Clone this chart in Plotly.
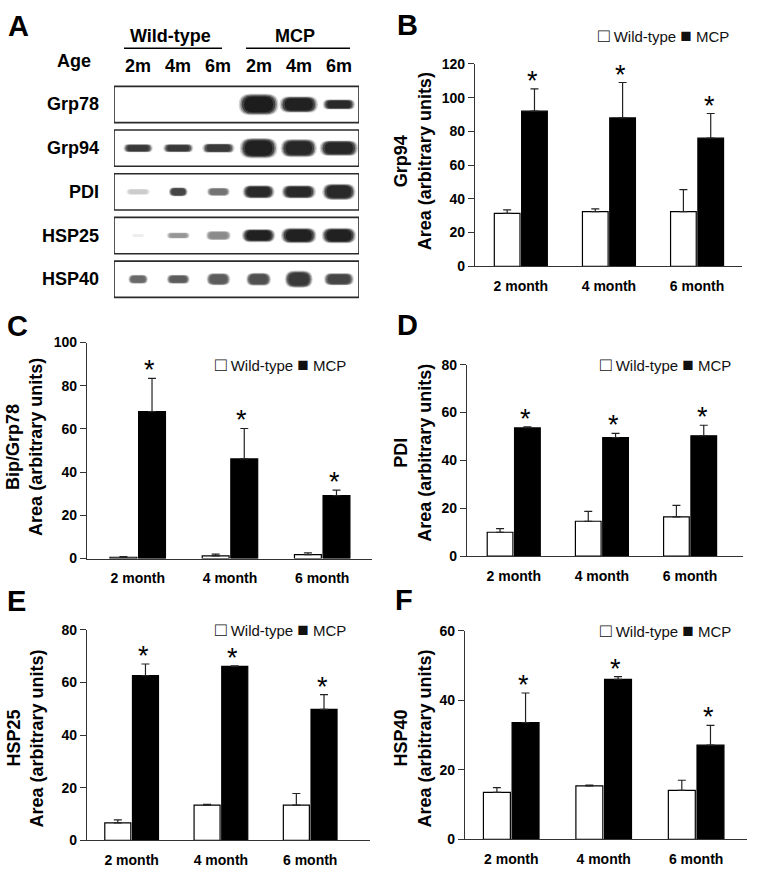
import plotly.graph_objects as go

# ---------------- data ----------------
months = ["2 month", "4 month", "6 month"]
groups = ["Wild-type", "MCP"]

grp94_wt = [31.4, 32.4, 32.4]
grp94_wt_err = [2.0, 1.6, 13.0]
grp94_mcp = [92.0, 88.0, 76.0]
grp94_mcp_err = [13.2, 21.0, 14.6]

grp78_wt = [0.6, 1.2, 1.8]
grp78_wt_err = [0.3, 0.8, 0.8]
grp78_mcp = [68.0, 46.1, 29.1]
grp78_mcp_err = [15.4, 14.1, 2.6]

pdi_wt = [10.0, 14.6, 16.4]
pdi_wt_err = [1.5, 4.1, 4.8]
pdi_mcp = [53.6, 49.5, 50.3]
pdi_mcp_err = [0.4, 1.8, 4.4]

hsp25_wt = [6.6, 13.4, 13.4]
hsp25_wt_err = [1.2, 0.3, 4.4]
hsp25_mcp = [62.6, 66.1, 49.8]
hsp25_mcp_err = [4.4, 0.2, 5.6]

hsp40_wt = [13.5, 15.4, 14.1]
hsp40_wt_err = [1.4, 0.2, 2.9]
hsp40_mcp = [33.6, 46.0, 27.1]
hsp40_mcp_err = [8.5, 0.8, 5.7]

# western blot (panel A): band darkness (0-1) and band extent (lane / row units)
blot_proteins = ["Grp78", "Grp94", "PDI", "HSP25", "HSP40"]
blot_lanes = ["2m", "4m", "6m", "2m", "4m", "6m"]
band_intensity = [
    [0.0, 0.0, 0.0, 0.97, 0.95, 0.92],
    [0.85, 0.85, 0.85, 0.95, 0.93, 0.93],
    [0.22, 0.8, 0.6, 0.92, 0.92, 0.92],
    [0.08, 0.45, 0.5, 0.95, 0.95, 0.95],
    [0.65, 0.7, 0.7, 0.75, 0.85, 0.8],
]
band_w = [
    [0, 0, 0, 0.95, 0.92, 0.77],
    [0.70, 0.72, 0.77, 0.90, 0.87, 0.92],
    [0.57, 0.45, 0.55, 0.77, 0.82, 0.80],
    [0.30, 0.55, 0.60, 0.80, 0.85, 0.82],
    [0.47, 0.55, 0.57, 0.60, 0.67, 0.72],
]
band_h = [
    [0, 0, 0, 0.47, 0.36, 0.22],
    [0.18, 0.18, 0.20, 0.45, 0.40, 0.34],
    [0.13, 0.20, 0.18, 0.29, 0.29, 0.36],
    [0.07, 0.13, 0.20, 0.29, 0.34, 0.34],
    [0.20, 0.20, 0.27, 0.29, 0.38, 0.27],
]

# ---------------- layout helpers ----------------
W, H = 758, 882
FONT = "Arial, Liberation Sans, sans-serif"


def px(x):
    return x / W


def py(y):
    return 1 - y / H


fig = go.Figure()
annotations = []
shapes = []

panels = [
    # title, axis suffix, data..., ymax, x domain px, y domain px (bottom, top), x range,
    # letter, letter pos (x, cap-centre y), title pos (x1, x2, yc), legend pos
    ("Grp94", "", grp94_wt, grp94_wt_err, grp94_mcp, grp94_mcp_err, 120,
     (475, 742), (263, 57), [-0.52, 2.51], "B", (395, 17.5), (401, 425, 156), (596, 28)),
    ("Bip/Grp78", "2", grp78_wt, grp78_wt_err, grp78_mcp, grp78_mcp_err, 100,
     (87, 372), (560.7, 340.7), [-0.55, 2.54], "C", (5, 324), (13, 36, 447), (213, 363)),
    ("PDI", "3", pdi_wt, pdi_wt_err, pdi_mcp, pdi_mcp_err, 80,
     (467, 743), (558.3, 363.3), [-0.53, 2.6], "D", (395, 323), (401, 425, 453), (598, 363)),
    ("HSP25", "4", hsp25_wt, hsp25_wt_err, hsp25_mcp, hsp25_mcp_err, 80,
     (87, 370), (847.7, 633.3), [-0.5, 2.67], "E", (5, 604), (14, 37, 744), (213, 633)),
    ("HSP40", "5", hsp40_wt, hsp40_wt_err, hsp40_mcp, hsp40_mcp_err, 60,
     (465, 747), (846.7, 634.3), [-0.5, 2.55], "F", (393, 603), (401, 425, 744), (598, 634)),
]

layout_axes = {}
for (name, sfx, wt, wte, mcp, mcpe, ymax, xd, yd, xr, letter, lpos, tpos, legpos) in panels:
    xa = "x" + sfx
    ya = "y" + sfx
    fig.add_trace(go.Bar(
        x=months, y=wt, name=groups[0], xaxis=xa, yaxis=ya,
        marker=dict(color="white", line=dict(color="black", width=1.2)),
        error_y=dict(type="data", array=wte, arrayminus=[0] * 3, symmetric=False,
                     color="#222", thickness=1.2, width=4),
        showlegend=False))
    fig.add_trace(go.Bar(
        x=months, y=mcp, name=groups[1], xaxis=xa, yaxis=ya,
        marker=dict(color="black", line=dict(color="black", width=1.2)),
        error_y=dict(type="data", array=mcpe, arrayminus=[0] * 3, symmetric=False,
                     color="#222", thickness=1.2, width=4),
        showlegend=False))
    layout_axes["xaxis" + sfx] = dict(
        domain=[px(xd[0]), px(xd[1])], anchor=ya, range=xr, type="category",
        showline=True, linecolor="#333", linewidth=1.3, ticks="outside",
        ticklen=7, tickcolor="rgba(0,0,0,0)", showgrid=False, zeroline=False,
        tickfont=dict(family=FONT, size=14, color="black", weight="bold"),
        fixedrange=True)
    layout_axes["yaxis" + sfx] = dict(
        domain=[py(yd[0]), py(yd[1])], anchor=xa, range=[0, ymax], dtick=20,
        showline=True, linecolor="#333", linewidth=1.3, ticks="outside",
        ticklen=6, tickcolor="#333", tickwidth=1.3, showgrid=False, zeroline=False,
        tickfont=dict(family=FONT, size=14, color="black", weight="bold"),
        fixedrange=True)
    # asterisks above MCP error bars
    for m, v, e in zip(months, mcp, mcpe):
        annotations.append(dict(
            x=m, y=v + e, xref=xa, yref=ya, text="*", showarrow=False,
            xshift=12, yanchor="middle", yshift=8,
            font=dict(family=FONT, size=27, color="black")))
    # panel letter
    annotations.append(dict(
        x=px(lpos[0]), y=py(lpos[1]), xref="paper", yref="paper", text=letter,
        showarrow=False, xanchor="left", yanchor="middle",
        font=dict(family=FONT, size=29, color="black", weight="bold")))
    # y-axis title (two lines)
    annotations.append(dict(
        x=px(tpos[0]), y=py(tpos[2]), xref="paper", yref="paper", text=name,
        showarrow=False, textangle=-90, xanchor="center", yanchor="middle",
        font=dict(family=FONT, size=18, color="black", weight="bold")))
    annotations.append(dict(
        x=px(tpos[1]), y=py(tpos[2]), xref="paper", yref="paper",
        text="Area (arbitrary units)",
        showarrow=False, textangle=-90, xanchor="center", yanchor="middle",
        font=dict(family=FONT, size=18, color="black", weight="bold")))
    # legend
    annotations.append(dict(
        x=px(legpos[0]), y=py(legpos[1]), xref="paper", yref="paper",
        text=("<span style='font-size:19px'>\u25a1</span> " + groups[0] +
              " <span style='font-size:19px'>\u25a0</span> " + groups[1]),
        showarrow=False, xanchor="left", yanchor="middle",
        font=dict(family=FONT, size=15, color="#111")))

# ---------------- panel A: western blot ----------------
layout_axes["xaxis6"] = dict(domain=[px(114), px(359)], range=[-0.6, 5.5], anchor="y6",
                             visible=False, fixedrange=True)
layout_axes["yaxis6"] = dict(domain=[py(298.5), py(76)], range=[4.5, -0.5], anchor="x6",
                             visible=False, fixedrange=True)
fig.add_trace(go.Scatter(x=[-0.6, 5.5], y=[-0.5, 4.5], xaxis="x6", yaxis="y6",
                         mode="markers", marker=dict(opacity=0), showlegend=False,
                         hoverinfo="skip"))


def band_path(cx, cy, w, h):
    x0, x1 = cx - w / 2, cx + w / 2
    y0, y1 = cy - h / 2, cy + h / 2
    rx = min(w / 2, h * 0.6)
    ry = h / 2
    return (f"M {x0 + rx},{y0} L {x1 - rx},{y0} Q {x1},{y0} {x1},{y0 + ry} "
            f"Q {x1},{y1} {x1 - rx},{y1} L {x0 + rx},{y1} Q {x0},{y1} {x0},{y1 - ry} "
            f"Q {x0},{y0} {x0 + rx},{y0} Z")


for r, prot in enumerate(blot_proteins):
    shapes.append(dict(type="rect", xref="x6", yref="y6", x0=-0.6, x1=5.5,
                       y0=r - 0.415, y1=r + 0.415,
                       line=dict(color="#2a2a2a", width=1.6), fillcolor="white",
                       layer="below"))
    annotations.append(dict(x=px(101), y=r, xref="paper", yref="y6", text=prot,
                            showarrow=False, xanchor="right", yanchor="middle",
                            font=dict(family=FONT, size=18, color="black", weight="bold")))
    for l in range(len(blot_lanes)):
        inten = band_intensity[r][l]
        if inten <= 0:
            continue
        w = band_w[r][l]
        h = band_h[r][l]
        g = int(round(255 * (1 - 0.92 * inten)))
        col = f"rgb({g},{g},{g})"
        # blurred edge: stacked translucent layers, dense core
        for grow, op in ((1.04, 0.2), (0.96, 0.38), (0.88, 0.65), (0.76, 0.95)):
            shapes.append(dict(type="path", xref="x6", yref="y6",
                               path=band_path(l, r, w * grow, h * grow),
                               fillcolor=col, opacity=op, line=dict(width=0)))

for l, lab in enumerate(blot_lanes):
    annotations.append(dict(x=l, y=py(59), xref="x6", yref="paper", text=lab,
                            showarrow=False, xanchor="center", yanchor="middle",
                            font=dict(family=FONT, size=18, color="black", weight="bold")))

annotations += [
    dict(x=px(6), y=py(18), xref="paper", yref="paper", text="A", showarrow=False,
         xanchor="left", yanchor="middle",
         font=dict(family=FONT, size=29, color="black", weight="bold")),
    dict(x=px(74), y=py(54), xref="paper", yref="paper", text="Age", showarrow=False,
         xanchor="center", yanchor="middle",
         font=dict(family=FONT, size=18, color="black", weight="bold")),
    dict(x=px(170), y=py(29), xref="paper", yref="paper", text=groups[0], showarrow=False,
         xanchor="center", yanchor="middle",
         font=dict(family=FONT, size=18, color="black", weight="bold")),
    dict(x=px(295), y=py(29), xref="paper", yref="paper", text=groups[1], showarrow=False,
         xanchor="center", yanchor="middle",
         font=dict(family=FONT, size=18, color="black", weight="bold")),
]
shapes += [
    dict(type="line", xref="paper", yref="paper", x0=px(124), x1=px(222), y0=py(41), y1=py(41),
         line=dict(color="black", width=1.4)),
    dict(type="line", xref="paper", yref="paper", x0=px(246), x1=px(350), y0=py(41), y1=py(41),
         line=dict(color="black", width=1.4)),
]

fig.update_layout(
    width=W, height=H, margin=dict(l=0, r=0, t=0, b=0),
    paper_bgcolor="white", plot_bgcolor="white",
    barmode="group", bargap=0.38, bargroupgap=0.06,
    annotations=annotations, shapes=shapes, showlegend=False,
    font=dict(family=FONT),
    **layout_axes,
)

fig.write_html("out.html",
               config={"displayModeBar": False},
               post_script="document.body.style.margin='0px';"
                           "document.body.style.overflow='hidden';")
